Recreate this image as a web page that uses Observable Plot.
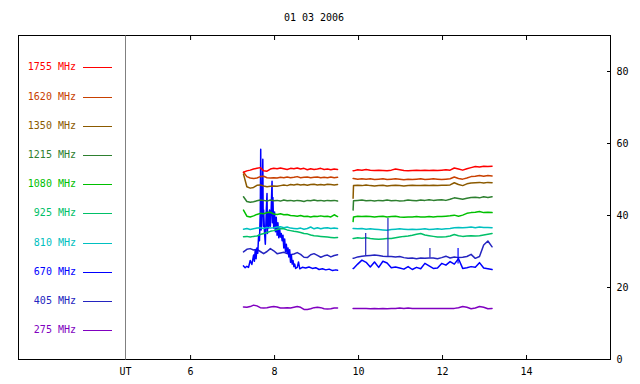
<!DOCTYPE html>
<html><head><meta charset="utf-8">
<script src="https://cdn.jsdelivr.net/npm/d3@7"></script>
<script src="https://cdn.jsdelivr.net/npm/@observablehq/plot@0.6"></script>
<style>
body{margin:0;background:#fff;}
#wrap{position:relative;width:640px;height:384px;font-family:"DejaVu Sans Mono",monospace;font-size:10px;color:#000;}
#title{position:absolute;left:18px;width:592px;top:11px;text-align:center;line-height:14px;}
#panel{position:absolute;left:18px;top:35px;width:108px;height:325px;box-sizing:border-box;border:1px solid #000;border-right-color:#808080;background:#fff;}
.row{position:absolute;left:0;height:14px;line-height:14px;width:100px;}
.row span{position:absolute;left:0;top:0;width:57px;text-align:right;}
.row i{position:absolute;left:64px;top:7px;width:29px;height:0;border-top:1px solid;}
</style></head>
<body>
<div id="wrap"><div id="title"></div></div>
<script>
const title = "01 03 2006";
const freqs = ["1755 MHz","1620 MHz","1350 MHz","1215 MHz","1080 MHz","925 MHz","810 MHz","670 MHz","405 MHz","275 MHz"];
const colors = ["#ff0000","#c84000","#8b5a00","#2e8030","#00c000","#00c068","#00c0c0","#0000ff","#2424c0","#8000c0"];
const xDomain = [4.45, 16];
const yDomain = [0, 90];
const xTicks = [6, 8, 10, 12, 14];
const yTicks = [0, 20, 40, 60, 80];

const times1 = [7.26,7.34,7.42,7.50,7.58,7.66,7.74,7.82,7.90,7.98,8.06,8.14,8.22,8.30,8.38,8.46,8.54,8.62,8.70,8.78,8.86,8.94,9.02,9.10,9.18,9.26,9.34,9.42,9.50];
const times2 = [9.87,9.88,9.98,10.08,10.18,10.28,10.38,10.48,10.58,10.68,10.78,10.88,10.98,11.08,11.18,11.28,11.38,11.48,11.58,11.68,11.78,11.88,11.98,12.08,12.18,12.28,12.38,12.48,12.58,12.68,12.78,12.88,12.98,13.08,13.18];

const s1755a = [52.0,52.4,52.6,52.9,53.1,53.3,52.4,52.3,52.9,53.1,53.0,53.2,53.0,52.8,53.1,53.0,53.2,52.9,53.1,52.7,53.0,52.8,52.9,53.1,52.8,52.9,52.7,52.9,52.8];
const s1755b = [52.4,52.4,52.7,52.6,52.8,52.6,52.5,52.6,52.5,52.4,52.6,52.9,52.7,52.5,52.4,52.5,52.6,52.5,52.6,52.5,52.6,52.5,52.6,52.7,52.6,53.2,52.9,52.6,53.0,53.3,53.6,53.5,53.7,53.6,53.7];
const s1620a = [52.0,50.8,50.4,50.3,50.4,50.8,50.9,50.5,50.4,50.5,50.4,50.6,50.5,50.7,50.5,50.6,50.8,50.5,50.6,50.7,50.5,50.6,50.7,50.5,50.6,50.5,50.7,50.5,50.6];
const s1620b = [50.3,50.3,50.1,50.2,50.1,50.2,50.0,50.1,50.2,50.0,50.1,50.2,50.1,49.9,50.1,50.0,50.1,50.2,50.0,50.1,50.2,50.1,50.0,50.1,50.2,50.7,50.3,50.1,50.4,50.8,50.9,51.1,50.9,51.1,51.0];
const s1350a = [51.5,48.0,47.6,47.8,48.4,48.5,48.2,48.0,48.1,48.2,48.1,48.3,48.5,48.3,48.6,48.5,48.7,48.5,48.6,48.4,48.6,48.7,48.5,48.6,48.5,48.7,48.6,48.5,48.6];
const s1350b = [44.8,48.3,48.4,48.3,48.5,48.3,48.2,48.3,48.4,48.2,48.3,48.4,48.3,48.2,48.3,48.4,48.3,48.3,48.4,48.3,48.4,48.3,48.4,48.4,48.5,49.1,48.6,48.3,48.8,49.0,49.1,49.2,49.0,49.2,49.1];
const s1215a = [45.2,43.9,43.7,43.8,44.1,44.3,44.2,44.0,44.3,44.1,44.2,44.0,44.3,44.1,44.2,44.0,44.2,44.1,43.9,44.2,44.1,44.3,44.1,44.2,44.0,44.2,44.1,44.2,44.0];
const s1215b = [41.5,44.1,44.2,44.3,44.1,44.2,44.0,44.2,44.1,44.3,44.1,44.2,44.0,44.1,44.3,44.2,44.1,44.3,44.2,44.4,44.2,44.3,44.4,44.2,44.5,44.9,44.7,44.5,44.8,45.0,45.1,44.9,45.2,45.0,45.2];
const s1080a = [41.5,39.8,39.6,39.9,40.3,40.6,40.5,40.8,40.9,40.4,40.3,40.5,40.2,40.3,40.0,39.9,39.8,40.0,39.7,39.8,39.6,39.8,39.7,39.9,39.7,39.8,39.6,40.2,39.7];
const s1080b = [38.3,39.6,39.8,39.7,39.8,39.7,39.6,39.7,39.8,39.6,39.7,39.8,39.6,39.5,39.6,39.6,39.7,39.6,39.6,39.7,39.6,39.7,39.7,39.8,39.9,40.1,39.8,40.1,40.6,40.8,40.9,41.1,40.8,40.9,40.8];
const s925a = [34.1,34.2,34.0,34.2,34.3,34.7,35.0,35.3,35.6,35.8,36.1,36.4,36.3,36.0,35.8,35.6,35.5,35.3,35.0,34.9,34.6,34.4,34.3,34.2,34.1,34.0,33.9,33.8,33.9];
const s925b = [33.6,33.6,33.8,33.7,33.8,33.6,33.5,33.4,33.5,33.6,33.6,33.8,34.0,34.2,34.3,34.5,34.8,35.0,34.6,34.4,34.2,34.0,34.0,34.1,34.3,34.7,34.4,34.2,34.3,34.4,34.3,34.4,34.6,34.8,35.0];
const s810a = [36.2,36.4,36.1,36.3,36.5,36.6,36.4,36.7,36.5,36.6,36.8,36.9,36.6,36.8,36.5,36.4,36.3,36.5,36.2,36.4,36.8,36.3,36.6,36.3,36.5,36.6,36.4,36.5,36.4];
const s810b = [36.4,36.4,36.3,36.4,36.2,36.3,36.2,36.1,36.0,35.9,36.1,36.2,36.3,36.2,36.1,36.2,36.1,36.2,36.3,36.1,36.2,36.3,36.2,36.3,36.4,36.6,36.7,36.6,36.7,36.8,36.6,36.8,36.7,36.7,36.6];

const t670a = [7.26,7.30,7.34,7.38,7.42,7.46,7.50,7.52,7.54,7.56,7.58,7.60,7.62,7.64,7.66,7.67,7.68,7.70,7.72,7.73,7.74,7.76,7.78,7.80,7.82,7.83,7.84,7.86,7.88,7.90,7.92,7.94,7.95,7.96,7.98,8.00,8.02,8.04,8.06,8.08,8.10,8.12,8.14,8.16,8.18,8.20,8.22,8.24,8.26,8.28,8.30,8.32,8.34,8.36,8.38,8.40,8.42,8.44,8.46,8.48,8.50,8.54,8.57,8.60,8.66,8.74,8.82,8.90,8.98,9.06,9.14,9.22,9.30,9.38,9.46,9.50];
const s670a = [26.0,25.5,25.9,25.6,27.5,26.4,29.0,27.3,30.5,28.0,31.0,29.5,34.5,33.0,41.0,58.4,36.0,42.0,55.6,37.0,41.5,35.5,32.0,40.5,46.1,35.0,41.0,36.5,41.5,37.0,42.0,49.5,38.0,45.0,36.5,41.0,35.5,39.5,34.5,38.0,33.8,36.5,34.0,35.0,33.0,34.5,31.0,33.5,30.0,32.0,29.5,31.0,28.5,30.5,27.0,29.0,26.5,27.5,25.8,26.5,25.3,25.6,27.1,25.2,25.6,25.4,25.7,25.3,25.5,25.0,25.2,24.9,25.1,24.7,24.9,24.8];
const s670b = [25.3,25.3,26.5,27.6,27.0,25.7,27.1,25.6,27.3,26.8,25.5,25.7,25.4,25.1,25.8,25.0,25.6,25.2,26.7,26.0,25.3,25.4,26.7,26.2,27.2,26.5,28.0,25.3,25.5,25.8,25.6,26.9,25.4,25.2,25.0];
const s405a = [29.9,30.6,30.8,30.4,30.6,30.0,29.4,30.0,30.8,30.2,29.4,29.6,29.8,29.4,29.1,29.3,29.7,29.2,28.4,28.3,29.1,29.4,28.9,28.4,28.8,29.0,28.5,28.9,29.1];
const s405b = [28.1,28.1,28.5,28.7,28.8,28.9,29.0,28.9,28.7,28.6,28.6,28.5,28.6,28.3,28.1,28.2,28.0,28.2,28.1,28.2,28.2,28.0,28.3,28.7,28.2,28.5,28.3,28.4,28.6,29.2,28.1,28.6,31.8,32.9,31.3];
const s275a = [14.6,14.5,14.7,15.1,14.9,14.4,14.3,14.4,14.6,14.7,14.6,14.3,14.3,14.4,14.3,14.5,14.7,14.5,13.9,13.9,14.1,14.4,14.5,14.4,14.1,14.0,14.1,14.3,14.3];
const s275b = [14.2,14.2,14.2,14.2,14.2,14.1,14.2,14.1,14.2,14.1,14.2,14.2,14.3,14.2,14.3,14.2,14.2,14.2,14.2,14.2,14.2,14.2,14.2,14.2,14.2,14.2,14.4,14.7,14.5,14.1,14.3,14.7,14.5,14.1,14.2];

// narrow spikes (single-sample bursts)
const spikeFreq = ["405 MHz","405 MHz","405 MHz","670 MHz"];
const spikeT    = [10.17, 10.70, 11.70, 12.37];
const spikeBase = [28.8, 28.6, 28.2, 26.5];
const spikeTop  = [35.0, 39.2, 30.8, 30.8];

// build table (draw low frequencies first, high on top)
const segs = [
  ["275 MHz", times1, s275a, times2, s275b],
  ["405 MHz", times1, s405a, times2, s405b],
  ["670 MHz", t670a, s670a, times2, s670b],
  ["810 MHz", times1, s810a, times2, s810b],
  ["925 MHz", times1, s925a, times2, s925b],
  ["1080 MHz", times1, s1080a, times2, s1080b],
  ["1215 MHz", times1, s1215a, times2, s1215b],
  ["1350 MHz", times1, s1350a, times2, s1350b],
  ["1620 MHz", times1, s1620a, times2, s1620b],
  ["1755 MHz", times1, s1755a, times2, s1755b]
];
const rows = [];
for (const [f, ta, va, tb, vb] of segs) {
  ta.forEach((t, i) => rows.push({freq: f, key: f + "a", t, v: va[i]}));
  tb.forEach((t, i) => rows.push({freq: f, key: f + "b", t, v: vb[i]}));
}
const spikes = spikeT.map((t, i) => ({t, freq: spikeFreq[i], base: spikeBase[i], top: spikeTop[i]}));

const chart = Plot.plot({
  width: 640, height: 384,
  marginLeft: 125, marginRight: 30, marginTop: 35, marginBottom: 25,
  style: {fontFamily: "'DejaVu Sans Mono', monospace", fontSize: "10px", background: "white", color: "#000"},
  x: {domain: xDomain},
  y: {domain: yDomain},
  color: {domain: freqs, range: colors},
  marks: [
    Plot.ruleY(yDomain, {stroke: "#000"}),
    Plot.ruleX([xDomain[1]], {stroke: "#000"}),
    Plot.axisX({anchor: "bottom", ticks: xTicks, tickSize: -4, tickPadding: 12, label: null, stroke: "#000"}),
    Plot.axisX({anchor: "top", ticks: xTicks, tickSize: -4, tickFormat: () => "", label: null, stroke: "#000"}),
    Plot.axisY({anchor: "right", ticks: yTicks, tickSize: -4, tickPadding: 10, label: null, stroke: "#000"}),
    Plot.text(["UT"], {frameAnchor: "bottom-left", textAnchor: "middle", lineAnchor: "top", dy: 8}),
    Plot.line(rows, {x: "t", y: "v", z: "key", stroke: "freq", strokeWidth: 1.5}),
    Plot.ruleX(spikes, {x: "t", y1: "base", y2: "top", stroke: "freq", strokeWidth: 1.2})
  ]
});
const wrap = document.getElementById("wrap");
wrap.appendChild(chart);
document.getElementById("title").textContent = title;

const panel = document.createElement("div");
panel.id = "panel";
freqs.forEach((f, i) => {
  const r = document.createElement("div");
  r.className = "row";
  r.style.top = Math.round(67.3 + i * 29.2 - 36 - 7) + "px";
  const s = document.createElement("span");
  s.textContent = f;
  s.style.color = colors[i];
  const l = document.createElement("i");
  l.style.borderTopColor = colors[i];
  r.appendChild(s); r.appendChild(l);
  panel.appendChild(r);
});
wrap.appendChild(panel);
</script>
</body></html>
